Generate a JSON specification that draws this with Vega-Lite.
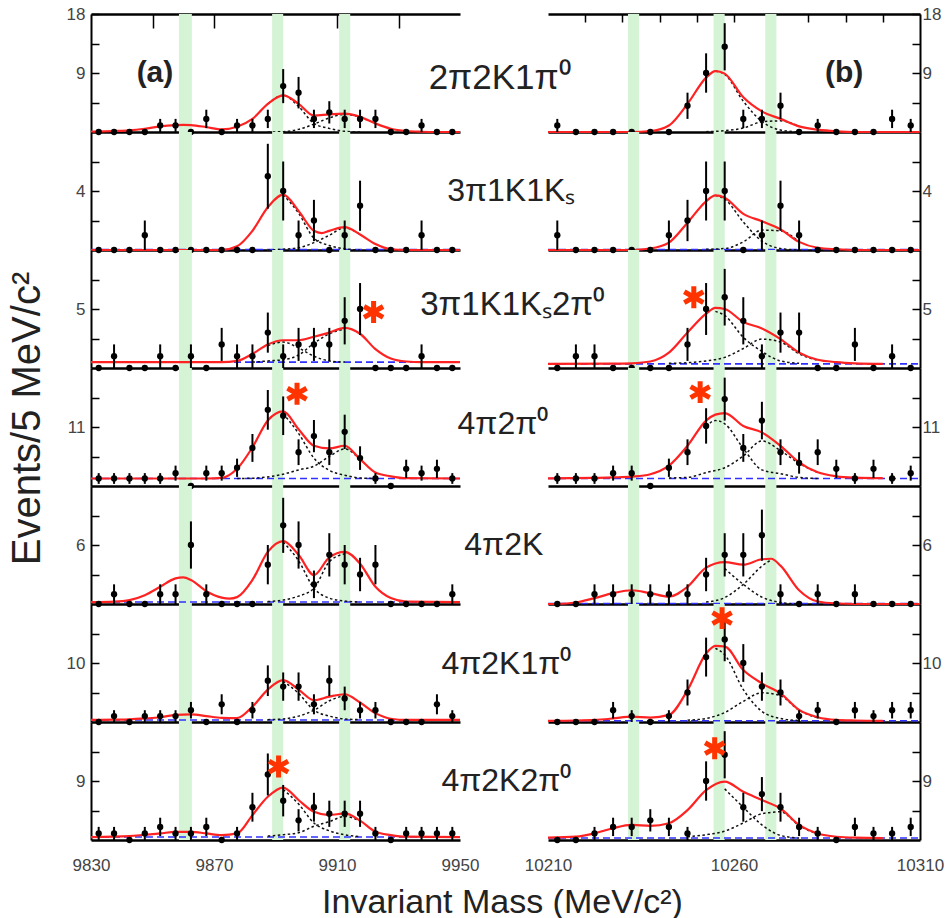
{
"$schema":"https://vega.github.io/schema/vega-lite/v6.json",
"background":"white",
"padding":{"left":6,"top":5,"right":0,"bottom":0},
"config":{"font":"Liberation Sans","view":{"stroke":null},
"axis":{"grid":false,"labelFont":"Liberation Sans","labelFontSize":17,"labelColor":"#444","domainColor":"black","tickColor":"black","tickWidth":1.5,"titleFont":"Liberation Sans","titleFontWeight":"normal","titleColor":"#222"},
"axisX":{"ticks":false,"labels":false,"domainWidth":2.5,"labelFlush":false,"format":"d"},
"axisY":{"tickSize":-8,"domainWidth":2},
"axisLeft":{"labelPadding":14},
"axisRight":{"labelPadding":10}},
"datasets":{
"B":[{"c":"a","m":9858.6,"m2":9862.8,"v":0,"v2":30},{"c":"a","m":9888.9,"m2":9892.5,"v":0,"v2":30},{"c":"a","m":9910.7,"m2":9914.3,"v":0,"v2":30},{"c":"b","m":10231.5,"m2":10234.5,"v":0,"v2":30},{"c":"b","m":10254.5,"m2":10257.5,"v":0,"v2":30},{"c":"b","m":10268.4,"m2":10271.4,"v":0,"v2":30}],
"T":[{"p":1,"k":"n","m":9986,"v":8.3,"t":"2π2K1π⁰"},{"p":1,"k":"a","m":9850.8,"v":9,"t":"(a)"},{"p":11,"k":"a","m":10289.6,"v":9,"t":"(b)"},{"p":2,"k":"n","m":9987.5,"v":4,"t":"3π1K1Kₛ"},{"p":3,"k":"n","m":9997.2,"v":5.3,"t":"3π1K1Kₛ2π⁰"},{"p":4,"k":"n","m":9978.7,"v":11.6,"t":"4π2π⁰"},{"p":5,"k":"n","m":9977.1,"v":6,"t":"4π2K"},{"p":6,"k":"n","m":9986.2,"v":9.8,"t":"4π2K1π⁰"},{"p":7,"k":"n","m":9986.2,"v":9,"t":"4π2K2π⁰"}],
"S":[{"p":3,"m":9921.9,"v":4.75},{"p":4,"m":9897,"v":17.2},{"p":7,"m":9891,"v":11.2},{"p":13,"m":10249.2,"v":6},{"p":14,"m":10250.9,"v":17.5},{"p":16,"m":10256.8,"v":17.6},{"p":17,"m":10254.8,"v":14}],
"P":[
{"p":1,"m":9832.5,"v":0,"e":0},{"p":1,"m":9837.5,"v":0,"e":0},{"p":1,"m":9842.5,"v":0,"e":0},{"p":1,"m":9847.5,"v":0,"e":0},{"p":1,"m":9852.5,"v":1,"e":1},{"p":1,"m":9857.5,"v":1,"e":1},{"p":1,"m":9862.5,"v":0,"e":0},{"p":1,"m":9867.5,"v":2,"e":1.4},{"p":1,"m":9872.5,"v":0,"e":0},{"p":1,"m":9877.5,"v":1,"e":1},{"p":1,"m":9882.5,"v":1,"e":1},{"p":1,"m":9887.5,"v":2,"e":1.4},{"p":1,"m":9892.5,"v":7,"e":2.6},{"p":1,"m":9897.5,"v":6,"e":2.4},{"p":1,"m":9902.5,"v":2,"e":1.4},{"p":1,"m":9907.5,"v":3,"e":1.7},{"p":1,"m":9912.5,"v":2,"e":1.4},{"p":1,"m":9917.5,"v":2,"e":1.4},{"p":1,"m":9922.5,"v":2,"e":1.4},{"p":1,"m":9927.5,"v":0,"e":0},{"p":1,"m":9932.5,"v":0,"e":0},{"p":1,"m":9937.5,"v":1,"e":1},{"p":1,"m":9942.5,"v":0,"e":0},{"p":1,"m":9947.5,"v":0,"e":0},
{"p":2,"m":9832.5,"v":0,"e":0},{"p":2,"m":9837.5,"v":0,"e":0},{"p":2,"m":9842.5,"v":0,"e":0},{"p":2,"m":9847.5,"v":1,"e":1},{"p":2,"m":9852.5,"v":0,"e":0},{"p":2,"m":9857.5,"v":0,"e":0},{"p":2,"m":9862.5,"v":0,"e":0},{"p":2,"m":9867.5,"v":0,"e":0},{"p":2,"m":9872.5,"v":0,"e":0},{"p":2,"m":9877.5,"v":0,"e":0},{"p":2,"m":9882.5,"v":0,"e":0},{"p":2,"m":9887.5,"v":5,"e":2.2},{"p":2,"m":9892.5,"v":4,"e":2},{"p":2,"m":9897.5,"v":1,"e":1},{"p":2,"m":9902.5,"v":2,"e":1.4},{"p":2,"m":9907.5,"v":0,"e":0},{"p":2,"m":9912.5,"v":1,"e":1},{"p":2,"m":9917.5,"v":3,"e":1.7},{"p":2,"m":9922.5,"v":0,"e":0},{"p":2,"m":9927.5,"v":0,"e":0},{"p":2,"m":9932.5,"v":0,"e":0},{"p":2,"m":9937.5,"v":1,"e":1},{"p":2,"m":9942.5,"v":0,"e":0},{"p":2,"m":9947.5,"v":0,"e":0},
{"p":3,"m":9832.5,"v":0,"e":0},{"p":3,"m":9837.5,"v":1,"e":1},{"p":3,"m":9842.5,"v":0,"e":0},{"p":3,"m":9847.5,"v":0,"e":0},{"p":3,"m":9852.5,"v":1,"e":1},{"p":3,"m":9857.5,"v":0,"e":0},{"p":3,"m":9862.5,"v":1,"e":1},{"p":3,"m":9867.5,"v":0,"e":0},{"p":3,"m":9872.5,"v":2,"e":1.4},{"p":3,"m":9877.5,"v":1,"e":1},{"p":3,"m":9882.5,"v":1,"e":1},{"p":3,"m":9887.5,"v":3,"e":1.7},{"p":3,"m":9892.5,"v":1,"e":1},{"p":3,"m":9897.5,"v":2,"e":1.4},{"p":3,"m":9902.5,"v":2,"e":1.4},{"p":3,"m":9907.5,"v":2,"e":1.4},{"p":3,"m":9912.5,"v":4,"e":2},{"p":3,"m":9917.5,"v":5,"e":2.2},{"p":3,"m":9922.5,"v":0,"e":0},{"p":3,"m":9927.5,"v":0,"e":0},{"p":3,"m":9932.5,"v":0,"e":0},{"p":3,"m":9937.5,"v":1,"e":1},{"p":3,"m":9942.5,"v":0,"e":0},{"p":3,"m":9947.5,"v":0,"e":0},
{"p":4,"m":9832.5,"v":1.4,"e":1},{"p":4,"m":9837.5,"v":1.4,"e":1},{"p":4,"m":9842.5,"v":1.4,"e":1},{"p":4,"m":9847.5,"v":1.4,"e":1},{"p":4,"m":9852.5,"v":1.4,"e":1},{"p":4,"m":9857.5,"v":2.4,"e":1.4},{"p":4,"m":9862.5,"v":0,"e":0},{"p":4,"m":9867.5,"v":2.4,"e":1.4},{"p":4,"m":9872.5,"v":2.4,"e":1.4},{"p":4,"m":9877.5,"v":3.4,"e":1.7},{"p":4,"m":9882.5,"v":7.1,"e":2.6},{"p":4,"m":9887.5,"v":14.2,"e":3.7},{"p":4,"m":9892.5,"v":13.1,"e":3.6},{"p":4,"m":9897.5,"v":6.3,"e":2.4},{"p":4,"m":9902.5,"v":9.3,"e":3},{"p":4,"m":9907.5,"v":6.3,"e":2.4},{"p":4,"m":9912.5,"v":10.1,"e":3.2},{"p":4,"m":9917.5,"v":5.2,"e":2.2},{"p":4,"m":9922.5,"v":1.4,"e":1},{"p":4,"m":9927.5,"v":0,"e":0},{"p":4,"m":9932.5,"v":3.2,"e":1.7},{"p":4,"m":9937.5,"v":2.4,"e":1.4},{"p":4,"m":9942.5,"v":3.2,"e":1.7},{"p":4,"m":9947.5,"v":1.4,"e":1},
{"p":5,"m":9832.5,"v":0,"e":0},{"p":5,"m":9837.5,"v":1,"e":1},{"p":5,"m":9842.5,"v":0,"e":0},{"p":5,"m":9847.5,"v":0,"e":0},{"p":5,"m":9852.5,"v":1,"e":1},{"p":5,"m":9857.5,"v":1,"e":1},{"p":5,"m":9862.5,"v":6,"e":2.4},{"p":5,"m":9867.5,"v":1,"e":1},{"p":5,"m":9872.5,"v":0,"e":0},{"p":5,"m":9877.5,"v":0,"e":0},{"p":5,"m":9882.5,"v":0,"e":0},{"p":5,"m":9887.5,"v":4,"e":2},{"p":5,"m":9892.5,"v":8,"e":2.8},{"p":5,"m":9897.5,"v":6,"e":2.4},{"p":5,"m":9902.5,"v":2,"e":1.4},{"p":5,"m":9907.5,"v":5,"e":2.2},{"p":5,"m":9912.5,"v":4,"e":2},{"p":5,"m":9917.5,"v":3,"e":1.7},{"p":5,"m":9922.5,"v":4,"e":2},{"p":5,"m":9927.5,"v":0,"e":0},{"p":5,"m":9932.5,"v":0,"e":0},{"p":5,"m":9937.5,"v":0,"e":0},{"p":5,"m":9942.5,"v":0,"e":0},{"p":5,"m":9947.5,"v":1,"e":1},
{"p":6,"m":9832.5,"v":0,"e":0},{"p":6,"m":9837.5,"v":1,"e":1},{"p":6,"m":9842.5,"v":0,"e":0},{"p":6,"m":9847.5,"v":1,"e":1},{"p":6,"m":9852.5,"v":1,"e":1},{"p":6,"m":9857.5,"v":1,"e":1},{"p":6,"m":9862.5,"v":2,"e":1.4},{"p":6,"m":9867.5,"v":0,"e":0},{"p":6,"m":9872.5,"v":3,"e":1.7},{"p":6,"m":9877.5,"v":0,"e":0},{"p":6,"m":9882.5,"v":2,"e":1.4},{"p":6,"m":9887.5,"v":7,"e":2.6},{"p":6,"m":9892.5,"v":6,"e":2.4},{"p":6,"m":9897.5,"v":6,"e":2.4},{"p":6,"m":9902.5,"v":3,"e":1.7},{"p":6,"m":9907.5,"v":7,"e":2.6},{"p":6,"m":9912.5,"v":4,"e":2},{"p":6,"m":9917.5,"v":2,"e":1.4},{"p":6,"m":9922.5,"v":2,"e":1.4},{"p":6,"m":9927.5,"v":0,"e":0},{"p":6,"m":9932.5,"v":0,"e":0},{"p":6,"m":9937.5,"v":0,"e":0},{"p":6,"m":9942.5,"v":3,"e":1.7},{"p":6,"m":9947.5,"v":1,"e":1},
{"p":7,"m":9832.5,"v":1,"e":1},{"p":7,"m":9837.5,"v":1,"e":1},{"p":7,"m":9842.5,"v":0,"e":0},{"p":7,"m":9847.5,"v":1,"e":1},{"p":7,"m":9852.5,"v":2,"e":1.4},{"p":7,"m":9857.5,"v":1,"e":1},{"p":7,"m":9862.5,"v":1,"e":1},{"p":7,"m":9867.5,"v":2,"e":1.4},{"p":7,"m":9872.5,"v":0,"e":0},{"p":7,"m":9877.5,"v":1,"e":1},{"p":7,"m":9882.5,"v":5,"e":2.2},{"p":7,"m":9887.5,"v":10,"e":3.2},{"p":7,"m":9892.5,"v":6,"e":2.4},{"p":7,"m":9897.5,"v":3,"e":1.7},{"p":7,"m":9902.5,"v":5,"e":2.2},{"p":7,"m":9907.5,"v":4,"e":2},{"p":7,"m":9912.5,"v":4,"e":2},{"p":7,"m":9917.5,"v":4,"e":2},{"p":7,"m":9922.5,"v":1,"e":1},{"p":7,"m":9927.5,"v":0,"e":0},{"p":7,"m":9932.5,"v":1,"e":1},{"p":7,"m":9937.5,"v":1,"e":1},{"p":7,"m":9942.5,"v":1,"e":1},{"p":7,"m":9947.5,"v":1,"e":1},
{"p":11,"m":10212.5,"v":1,"e":1},{"p":11,"m":10217.5,"v":0,"e":0},{"p":11,"m":10222.5,"v":0,"e":0},{"p":11,"m":10227.5,"v":0,"e":0},{"p":11,"m":10232.5,"v":0,"e":0},{"p":11,"m":10237.5,"v":0,"e":0},{"p":11,"m":10242.5,"v":0,"e":0},{"p":11,"m":10247.5,"v":4,"e":2},{"p":11,"m":10252.5,"v":9,"e":3},{"p":11,"m":10257.5,"v":13,"e":3.6},{"p":11,"m":10262.5,"v":2,"e":1.4},{"p":11,"m":10267.5,"v":2,"e":1.4},{"p":11,"m":10272.5,"v":4,"e":2},{"p":11,"m":10277.5,"v":0,"e":0},{"p":11,"m":10282.5,"v":1,"e":1},{"p":11,"m":10287.5,"v":0,"e":0},{"p":11,"m":10292.5,"v":0,"e":0},{"p":11,"m":10297.5,"v":0,"e":0},{"p":11,"m":10302.5,"v":2,"e":1.4},{"p":11,"m":10307.5,"v":1,"e":1},
{"p":12,"m":10212.5,"v":1,"e":1},{"p":12,"m":10217.5,"v":0,"e":0},{"p":12,"m":10222.5,"v":0,"e":0},{"p":12,"m":10227.5,"v":0,"e":0},{"p":12,"m":10232.5,"v":0,"e":0},{"p":12,"m":10237.5,"v":0,"e":0},{"p":12,"m":10242.5,"v":1,"e":1},{"p":12,"m":10247.5,"v":2,"e":1.4},{"p":12,"m":10252.5,"v":4,"e":2},{"p":12,"m":10257.5,"v":4,"e":2},{"p":12,"m":10262.5,"v":0,"e":0},{"p":12,"m":10267.5,"v":1,"e":1},{"p":12,"m":10272.5,"v":3,"e":1.7},{"p":12,"m":10277.5,"v":1,"e":1},{"p":12,"m":10282.5,"v":0,"e":0},{"p":12,"m":10287.5,"v":0,"e":0},{"p":12,"m":10292.5,"v":0,"e":0},{"p":12,"m":10297.5,"v":0,"e":0},{"p":12,"m":10302.5,"v":0,"e":0},{"p":12,"m":10307.5,"v":0,"e":0},
{"p":13,"m":10212.5,"v":0,"e":0},{"p":13,"m":10217.5,"v":1,"e":1},{"p":13,"m":10222.5,"v":1,"e":1},{"p":13,"m":10227.5,"v":0,"e":0},{"p":13,"m":10232.5,"v":0,"e":0},{"p":13,"m":10237.5,"v":0,"e":0},{"p":13,"m":10242.5,"v":0,"e":0},{"p":13,"m":10247.5,"v":2,"e":1.4},{"p":13,"m":10252.5,"v":5,"e":2.2},{"p":13,"m":10257.5,"v":6,"e":2.4},{"p":13,"m":10262.5,"v":4,"e":2},{"p":13,"m":10267.5,"v":1,"e":1},{"p":13,"m":10272.5,"v":3,"e":1.7},{"p":13,"m":10277.5,"v":3,"e":1.7},{"p":13,"m":10282.5,"v":0,"e":0},{"p":13,"m":10287.5,"v":0,"e":0},{"p":13,"m":10292.5,"v":2,"e":1.4},{"p":13,"m":10297.5,"v":0,"e":0},{"p":13,"m":10302.5,"v":1,"e":1},{"p":13,"m":10307.5,"v":0,"e":0},
{"p":14,"m":10212.5,"v":1.4,"e":1},{"p":14,"m":10217.5,"v":1.4,"e":1},{"p":14,"m":10222.5,"v":1.4,"e":1},{"p":14,"m":10227.5,"v":2.4,"e":1.4},{"p":14,"m":10232.5,"v":2.4,"e":1.4},{"p":14,"m":10237.5,"v":0,"e":0},{"p":14,"m":10242.5,"v":3.4,"e":1.7},{"p":14,"m":10247.5,"v":6.3,"e":2.4},{"p":14,"m":10252.5,"v":11.2,"e":3.3},{"p":14,"m":10257.5,"v":16.2,"e":4},{"p":14,"m":10262.5,"v":7.1,"e":2.6},{"p":14,"m":10267.5,"v":12.2,"e":3.5},{"p":14,"m":10272.5,"v":6.3,"e":2.4},{"p":14,"m":10277.5,"v":4.3,"e":2},{"p":14,"m":10282.5,"v":6.3,"e":2.4},{"p":14,"m":10287.5,"v":3.2,"e":1.7},{"p":14,"m":10292.5,"v":1.4,"e":1},{"p":14,"m":10297.5,"v":3.2,"e":1.7},{"p":14,"m":10302.5,"v":1.4,"e":1},{"p":14,"m":10307.5,"v":2.4,"e":1.4},
{"p":15,"m":10212.5,"v":0,"e":0},{"p":15,"m":10217.5,"v":0,"e":0},{"p":15,"m":10222.5,"v":1,"e":1},{"p":15,"m":10227.5,"v":1,"e":1},{"p":15,"m":10232.5,"v":1,"e":1},{"p":15,"m":10237.5,"v":1,"e":1},{"p":15,"m":10242.5,"v":1,"e":1},{"p":15,"m":10247.5,"v":1,"e":1},{"p":15,"m":10252.5,"v":3,"e":1.7},{"p":15,"m":10257.5,"v":5,"e":2.2},{"p":15,"m":10262.5,"v":5,"e":2.2},{"p":15,"m":10267.5,"v":7,"e":2.6},{"p":15,"m":10272.5,"v":1,"e":1},{"p":15,"m":10277.5,"v":0,"e":0},{"p":15,"m":10282.5,"v":1,"e":1},{"p":15,"m":10287.5,"v":0,"e":0},{"p":15,"m":10292.5,"v":1,"e":1},{"p":15,"m":10297.5,"v":0,"e":0},{"p":15,"m":10302.5,"v":0,"e":0},{"p":15,"m":10307.5,"v":0,"e":0},
{"p":16,"m":10212.5,"v":0,"e":0},{"p":16,"m":10217.5,"v":0,"e":0},{"p":16,"m":10222.5,"v":0,"e":0},{"p":16,"m":10227.5,"v":2,"e":1.4},{"p":16,"m":10232.5,"v":1,"e":1},{"p":16,"m":10237.5,"v":0,"e":0},{"p":16,"m":10242.5,"v":1,"e":1},{"p":16,"m":10247.5,"v":5,"e":2.2},{"p":16,"m":10252.5,"v":11,"e":3.3},{"p":16,"m":10257.5,"v":14,"e":3.7},{"p":16,"m":10262.5,"v":10,"e":3.2},{"p":16,"m":10267.5,"v":6,"e":2.4},{"p":16,"m":10272.5,"v":5,"e":2.2},{"p":16,"m":10277.5,"v":1,"e":1},{"p":16,"m":10282.5,"v":2,"e":1.4},{"p":16,"m":10287.5,"v":0,"e":0},{"p":16,"m":10292.5,"v":2,"e":1.4},{"p":16,"m":10297.5,"v":1,"e":1},{"p":16,"m":10302.5,"v":2,"e":1.4},{"p":16,"m":10307.5,"v":2,"e":1.4},
{"p":17,"m":10212.5,"v":0,"e":0},{"p":17,"m":10217.5,"v":0,"e":0},{"p":17,"m":10222.5,"v":1,"e":1},{"p":17,"m":10227.5,"v":2,"e":1.4},{"p":17,"m":10232.5,"v":2,"e":1.4},{"p":17,"m":10237.5,"v":3,"e":1.7},{"p":17,"m":10242.5,"v":2,"e":1.4},{"p":17,"m":10247.5,"v":1,"e":1},{"p":17,"m":10252.5,"v":9,"e":3},{"p":17,"m":10257.5,"v":13,"e":3.6},{"p":17,"m":10262.5,"v":5,"e":2.2},{"p":17,"m":10267.5,"v":7,"e":2.6},{"p":17,"m":10272.5,"v":5,"e":2.2},{"p":17,"m":10277.5,"v":2,"e":1.4},{"p":17,"m":10282.5,"v":1,"e":1},{"p":17,"m":10287.5,"v":0,"e":0},{"p":17,"m":10292.5,"v":2,"e":1.4},{"p":17,"m":10297.5,"v":1,"e":1},{"p":17,"m":10302.5,"v":1,"e":1},{"p":17,"m":10307.5,"v":2,"e":1.4}],
"F":[
{"p":1,"s":"t","m":9830,"v":0.05},{"p":1,"s":"t","m":9837.5,"v":0.15},{"p":1,"s":"t","m":9842.5,"v":0.25},{"p":1,"s":"t","m":9847.5,"v":0.5},{"p":1,"s":"t","m":9852.5,"v":0.85},{"p":1,"s":"t","m":9857.5,"v":1.05},{"p":1,"s":"t","m":9860,"v":1.1},{"p":1,"s":"t","m":9862.5,"v":1.05},{"p":1,"s":"t","m":9867.5,"v":0.75},{"p":1,"s":"t","m":9872.5,"v":0.4},{"p":1,"s":"t","m":9877.5,"v":0.8},{"p":1,"s":"t","m":9882.5,"v":2},{"p":1,"s":"t","m":9887.5,"v":4.3},{"p":1,"s":"t","m":9892.5,"v":5.6},{"p":1,"s":"t","m":9897.5,"v":4.3},{"p":1,"s":"t","m":9902.5,"v":2.5},{"p":1,"s":"t","m":9907.5,"v":2.7},{"p":1,"s":"t","m":9912.5,"v":2.8},{"p":1,"s":"t","m":9917.5,"v":2.3},{"p":1,"s":"t","m":9922.5,"v":1.3},{"p":1,"s":"t","m":9927.5,"v":0.5},{"p":1,"s":"t","m":9932.5,"v":0.15},{"p":1,"s":"t","m":9937.5,"v":0.04},{"p":1,"s":"t","m":9942.5,"v":0},{"p":1,"s":"t","m":9950,"v":0},
{"p":1,"s":"u","m":9887.5,"v":4.3},{"p":1,"s":"u","m":9892.5,"v":5.6},{"p":1,"s":"u","m":9897.5,"v":3.9},{"p":1,"s":"u","m":9902.5,"v":1.3},{"p":1,"s":"u","m":9907.5,"v":0.55},{"p":1,"s":"u","m":9912.5,"v":0.1},{"p":1,"s":"u","m":9917.5,"v":0},
{"p":1,"s":"w","m":9887.5,"v":0},{"p":1,"s":"w","m":9892.5,"v":0.05},{"p":1,"s":"w","m":9897.5,"v":0.4},{"p":1,"s":"w","m":9902.5,"v":1.2},{"p":1,"s":"w","m":9907.5,"v":2.15},{"p":1,"s":"w","m":9912.5,"v":2.7},{"p":1,"s":"w","m":9917.5,"v":2.3},
{"p":2,"s":"t","m":9830,"v":0},{"p":2,"s":"t","m":9872.5,"v":0},{"p":2,"s":"t","m":9877.5,"v":0.25},{"p":2,"s":"t","m":9882.5,"v":1.3},{"p":2,"s":"t","m":9887.5,"v":2.9},{"p":2,"s":"t","m":9892.5,"v":3.75},{"p":2,"s":"t","m":9897.5,"v":2.65},{"p":2,"s":"t","m":9902.5,"v":1.3},{"p":2,"s":"t","m":9905,"v":1.15},{"p":2,"s":"t","m":9907.5,"v":1.3},{"p":2,"s":"t","m":9912.5,"v":1.55},{"p":2,"s":"t","m":9917.5,"v":1.05},{"p":2,"s":"t","m":9922.5,"v":0.4},{"p":2,"s":"t","m":9927.5,"v":0.05},{"p":2,"s":"t","m":9932.5,"v":0},{"p":2,"s":"t","m":9950,"v":0},
{"p":2,"s":"u","m":9892.5,"v":3.75},{"p":2,"s":"u","m":9897.5,"v":2.5},{"p":2,"s":"u","m":9902.5,"v":0.8},{"p":2,"s":"u","m":9907.5,"v":0.3},{"p":2,"s":"u","m":9912.5,"v":0.08},{"p":2,"s":"u","m":9917.5,"v":0},
{"p":2,"s":"w","m":9887.5,"v":0},{"p":2,"s":"w","m":9892.5,"v":0.05},{"p":2,"s":"w","m":9897.5,"v":0.15},{"p":2,"s":"w","m":9902.5,"v":0.5},{"p":2,"s":"w","m":9907.5,"v":1},{"p":2,"s":"w","m":9912.5,"v":1.5},{"p":2,"s":"w","m":9917.5,"v":1.05},
{"p":2,"s":"b","m":9830,"v":0.03},{"p":2,"s":"b","m":9950,"v":0.03},
{"p":3,"s":"t","m":9830,"v":0.5},{"p":3,"s":"t","m":9872.5,"v":0.5},{"p":3,"s":"t","m":9877.5,"v":0.6},{"p":3,"s":"t","m":9882.5,"v":1.2},{"p":3,"s":"t","m":9887.5,"v":2},{"p":3,"s":"t","m":9892.5,"v":2.35},{"p":3,"s":"t","m":9897.5,"v":2.35},{"p":3,"s":"t","m":9902.5,"v":2.65},{"p":3,"s":"t","m":9907.5,"v":3},{"p":3,"s":"t","m":9912.5,"v":3.4},{"p":3,"s":"t","m":9917.5,"v":2.9},{"p":3,"s":"t","m":9922.5,"v":1.6},{"p":3,"s":"t","m":9927.5,"v":0.8},{"p":3,"s":"t","m":9932.5,"v":0.55},{"p":3,"s":"t","m":9937.5,"v":0.5},{"p":3,"s":"t","m":9950,"v":0.5},
{"p":3,"s":"u","m":9887.5,"v":1.9},{"p":3,"s":"u","m":9892.5,"v":2.2},{"p":3,"s":"u","m":9897.5,"v":1.7},{"p":3,"s":"u","m":9902.5,"v":1},{"p":3,"s":"u","m":9907.5,"v":0.6},{"p":3,"s":"u","m":9912.5,"v":0.5},
{"p":3,"s":"w","m":9882.5,"v":0.5},{"p":3,"s":"w","m":9887.5,"v":0.6},{"p":3,"s":"w","m":9892.5,"v":0.7},{"p":3,"s":"w","m":9897.5,"v":1.1},{"p":3,"s":"w","m":9902.5,"v":2.1},{"p":3,"s":"w","m":9907.5,"v":2.9},{"p":3,"s":"w","m":9912.5,"v":3.3},
{"p":3,"s":"b","m":9830,"v":0.5},{"p":3,"s":"b","m":9950,"v":0.5},
{"p":4,"s":"t","m":9830,"v":1.4},{"p":4,"s":"t","m":9867.5,"v":1.4},{"p":4,"s":"t","m":9872.5,"v":1.5},{"p":4,"s":"t","m":9877.5,"v":3.2},{"p":4,"s":"t","m":9882.5,"v":7.2},{"p":4,"s":"t","m":9887.5,"v":12.2},{"p":4,"s":"t","m":9892.5,"v":13.9},{"p":4,"s":"t","m":9897.5,"v":10.6},{"p":4,"s":"t","m":9902.5,"v":7.5},{"p":4,"s":"t","m":9907.5,"v":7},{"p":4,"s":"t","m":9912.5,"v":7.5},{"p":4,"s":"t","m":9917.5,"v":5},{"p":4,"s":"t","m":9922.5,"v":2.5},{"p":4,"s":"t","m":9927.5,"v":1.8},{"p":4,"s":"t","m":9932.5,"v":1.45},{"p":4,"s":"t","m":9950,"v":1.4},
{"p":4,"s":"u","m":9892.5,"v":13.5},{"p":4,"s":"u","m":9897.5,"v":9.8},{"p":4,"s":"u","m":9902.5,"v":5.2},{"p":4,"s":"u","m":9907.5,"v":2.9},{"p":4,"s":"u","m":9912.5,"v":2},{"p":4,"s":"u","m":9917.5,"v":1.5},{"p":4,"s":"u","m":9922.5,"v":1.4},
{"p":4,"s":"w","m":9877.5,"v":1.4},{"p":4,"s":"w","m":9882.5,"v":1.45},{"p":4,"s":"w","m":9887.5,"v":1.7},{"p":4,"s":"w","m":9892.5,"v":2.2},{"p":4,"s":"w","m":9897.5,"v":3},{"p":4,"s":"w","m":9902.5,"v":3.7},{"p":4,"s":"w","m":9907.5,"v":5.5},{"p":4,"s":"w","m":9912.5,"v":6.9},{"p":4,"s":"w","m":9917.5,"v":4.9},
{"p":4,"s":"b","m":9830,"v":1.4},{"p":4,"s":"b","m":9950,"v":1.4},
{"p":5,"s":"t","m":9830,"v":0.2},{"p":5,"s":"t","m":9837.5,"v":0.25},{"p":5,"s":"t","m":9842.5,"v":0.4},{"p":5,"s":"t","m":9847.5,"v":0.9},{"p":5,"s":"t","m":9852.5,"v":1.75},{"p":5,"s":"t","m":9857.5,"v":2.6},{"p":5,"s":"t","m":9860,"v":2.7},{"p":5,"s":"t","m":9862.5,"v":2.45},{"p":5,"s":"t","m":9867.5,"v":1.3},{"p":5,"s":"t","m":9872.5,"v":0.65},{"p":5,"s":"t","m":9875,"v":0.55},{"p":5,"s":"t","m":9877.5,"v":0.7},{"p":5,"s":"t","m":9882.5,"v":2.45},{"p":5,"s":"t","m":9887.5,"v":5.3},{"p":5,"s":"t","m":9892.5,"v":6.4},{"p":5,"s":"t","m":9897.5,"v":5},{"p":5,"s":"t","m":9902.5,"v":2.95},{"p":5,"s":"t","m":9907.5,"v":4.75},{"p":5,"s":"t","m":9912.5,"v":5.3},{"p":5,"s":"t","m":9917.5,"v":4.1},{"p":5,"s":"t","m":9922.5,"v":1.75},{"p":5,"s":"t","m":9927.5,"v":0.6},{"p":5,"s":"t","m":9932.5,"v":0.25},{"p":5,"s":"t","m":9950,"v":0.2},
{"p":5,"s":"u","m":9892.5,"v":6.3},{"p":5,"s":"u","m":9897.5,"v":4.4},{"p":5,"s":"u","m":9902.5,"v":1.6},{"p":5,"s":"u","m":9907.5,"v":0.6},{"p":5,"s":"u","m":9912.5,"v":0.3},{"p":5,"s":"u","m":9917.5,"v":0.2},
{"p":5,"s":"w","m":9887.5,"v":0.25},{"p":5,"s":"w","m":9892.5,"v":0.4},{"p":5,"s":"w","m":9897.5,"v":0.8},{"p":5,"s":"w","m":9902.5,"v":1.6},{"p":5,"s":"w","m":9907.5,"v":4.3},{"p":5,"s":"w","m":9912.5,"v":5.1},
{"p":5,"s":"b","m":9830,"v":0.2},{"p":5,"s":"b","m":9950,"v":0.2},
{"p":6,"s":"t","m":9830,"v":0.35},{"p":6,"s":"t","m":9837.5,"v":0.4},{"p":6,"s":"t","m":9842.5,"v":0.45},{"p":6,"s":"t","m":9847.5,"v":0.6},{"p":6,"s":"t","m":9852.5,"v":0.8},{"p":6,"s":"t","m":9857.5,"v":1.2},{"p":6,"s":"t","m":9862.5,"v":1.3},{"p":6,"s":"t","m":9867.5,"v":1},{"p":6,"s":"t","m":9872.5,"v":0.7},{"p":6,"s":"t","m":9877.5,"v":0.65},{"p":6,"s":"t","m":9882.5,"v":2.6},{"p":6,"s":"t","m":9887.5,"v":5.5},{"p":6,"s":"t","m":9892.5,"v":7.1},{"p":6,"s":"t","m":9897.5,"v":5.5},{"p":6,"s":"t","m":9902.5,"v":3.7},{"p":6,"s":"t","m":9907.5,"v":4.3},{"p":6,"s":"t","m":9912.5,"v":4.7},{"p":6,"s":"t","m":9917.5,"v":3.3},{"p":6,"s":"t","m":9922.5,"v":1.5},{"p":6,"s":"t","m":9927.5,"v":0.55},{"p":6,"s":"t","m":9932.5,"v":0.35},{"p":6,"s":"t","m":9950,"v":0.35},
{"p":6,"s":"u","m":9892.5,"v":6.9},{"p":6,"s":"u","m":9897.5,"v":4.85},{"p":6,"s":"u","m":9902.5,"v":2},{"p":6,"s":"u","m":9907.5,"v":1},{"p":6,"s":"u","m":9912.5,"v":0.5},{"p":6,"s":"u","m":9917.5,"v":0.4},
{"p":6,"s":"w","m":9887.5,"v":0.4},{"p":6,"s":"w","m":9892.5,"v":0.5},{"p":6,"s":"w","m":9897.5,"v":1},{"p":6,"s":"w","m":9902.5,"v":2},{"p":6,"s":"w","m":9907.5,"v":3.6},{"p":6,"s":"w","m":9912.5,"v":4.5},
{"p":6,"s":"b","m":9830,"v":0.35},{"p":6,"s":"b","m":9950,"v":0.35},
{"p":7,"s":"t","m":9830,"v":0.45},{"p":7,"s":"t","m":9842.5,"v":0.6},{"p":7,"s":"t","m":9847.5,"v":0.8},{"p":7,"s":"t","m":9852.5,"v":1},{"p":7,"s":"t","m":9857.5,"v":1.25},{"p":7,"s":"t","m":9862.5,"v":1.25},{"p":7,"s":"t","m":9867.5,"v":1},{"p":7,"s":"t","m":9872.5,"v":0.75},{"p":7,"s":"t","m":9877.5,"v":1},{"p":7,"s":"t","m":9882.5,"v":3.8},{"p":7,"s":"t","m":9887.5,"v":6.6},{"p":7,"s":"t","m":9892.5,"v":8},{"p":7,"s":"t","m":9897.5,"v":6.1},{"p":7,"s":"t","m":9902.5,"v":4.3},{"p":7,"s":"t","m":9907.5,"v":3.8},{"p":7,"s":"t","m":9912.5,"v":4.05},{"p":7,"s":"t","m":9917.5,"v":2.95},{"p":7,"s":"t","m":9922.5,"v":1.25},{"p":7,"s":"t","m":9927.5,"v":0.75},{"p":7,"s":"t","m":9932.5,"v":0.5},{"p":7,"s":"t","m":9950,"v":0.45},
{"p":7,"s":"u","m":9892.5,"v":7.7},{"p":7,"s":"u","m":9897.5,"v":5.5},{"p":7,"s":"u","m":9902.5,"v":2.6},{"p":7,"s":"u","m":9907.5,"v":1.4},{"p":7,"s":"u","m":9912.5,"v":0.8},{"p":7,"s":"u","m":9917.5,"v":0.5},
{"p":7,"s":"w","m":9887.5,"v":0.6},{"p":7,"s":"w","m":9892.5,"v":0.8},{"p":7,"s":"w","m":9897.5,"v":1.1},{"p":7,"s":"w","m":9902.5,"v":2.1},{"p":7,"s":"w","m":9907.5,"v":2.8},{"p":7,"s":"w","m":9912.5,"v":3.6},{"p":7,"s":"w","m":9917.5,"v":2.9},
{"p":7,"s":"b","m":9830,"v":0.45},{"p":7,"s":"b","m":9950,"v":0.45},
{"p":11,"s":"t","m":10210,"v":0},{"p":11,"s":"t","m":10232.5,"v":0},{"p":11,"s":"t","m":10237.5,"v":0.15},{"p":11,"s":"t","m":10242.5,"v":1},{"p":11,"s":"t","m":10247.5,"v":4.3},{"p":11,"s":"t","m":10252.5,"v":8.3},{"p":11,"s":"t","m":10255,"v":9.3},{"p":11,"s":"t","m":10257.5,"v":8.9},{"p":11,"s":"t","m":10262.5,"v":5.3},{"p":11,"s":"t","m":10267.5,"v":3.15},{"p":11,"s":"t","m":10272.5,"v":2},{"p":11,"s":"t","m":10277.5,"v":0.85},{"p":11,"s":"t","m":10282.5,"v":0.35},{"p":11,"s":"t","m":10287.5,"v":0.1},{"p":11,"s":"t","m":10292.5,"v":0},{"p":11,"s":"t","m":10310,"v":0},
{"p":11,"s":"u","m":10255,"v":9.3},{"p":11,"s":"u","m":10257.5,"v":8.8},{"p":11,"s":"u","m":10262.5,"v":4.7},{"p":11,"s":"u","m":10267.5,"v":1.6},{"p":11,"s":"u","m":10272.5,"v":0.3},{"p":11,"s":"u","m":10277.5,"v":0},
{"p":11,"s":"w","m":10252.5,"v":0.05},{"p":11,"s":"w","m":10257.5,"v":0.2},{"p":11,"s":"w","m":10262.5,"v":0.6},{"p":11,"s":"w","m":10267.5,"v":1.55},{"p":11,"s":"w","m":10272.5,"v":1.7},{"p":11,"s":"w","m":10277.5,"v":0.85},
{"p":12,"s":"t","m":10210,"v":0},{"p":12,"s":"t","m":10232.5,"v":0},{"p":12,"s":"t","m":10237.5,"v":0.1},{"p":12,"s":"t","m":10242.5,"v":0.5},{"p":12,"s":"t","m":10247.5,"v":1.85},{"p":12,"s":"t","m":10252.5,"v":3.3},{"p":12,"s":"t","m":10255,"v":3.7},{"p":12,"s":"t","m":10257.5,"v":3.55},{"p":12,"s":"t","m":10262.5,"v":2.45},{"p":12,"s":"t","m":10267.5,"v":1.95},{"p":12,"s":"t","m":10272.5,"v":1.4},{"p":12,"s":"t","m":10277.5,"v":0.55},{"p":12,"s":"t","m":10282.5,"v":0.15},{"p":12,"s":"t","m":10287.5,"v":0.05},{"p":12,"s":"t","m":10292.5,"v":0},{"p":12,"s":"t","m":10310,"v":0},
{"p":12,"s":"u","m":10255,"v":3.7},{"p":12,"s":"u","m":10257.5,"v":3.45},{"p":12,"s":"u","m":10262.5,"v":1.9},{"p":12,"s":"u","m":10267.5,"v":0.6},{"p":12,"s":"u","m":10272.5,"v":0.1},{"p":12,"s":"u","m":10277.5,"v":0},
{"p":12,"s":"w","m":10252.5,"v":0.05},{"p":12,"s":"w","m":10257.5,"v":0.1},{"p":12,"s":"w","m":10262.5,"v":0.55},{"p":12,"s":"w","m":10267.5,"v":1.35},{"p":12,"s":"w","m":10272.5,"v":1.3},{"p":12,"s":"w","m":10277.5,"v":0.55},
{"p":12,"s":"b","m":10210,"v":0.03},{"p":12,"s":"b","m":10310,"v":0.03},
{"p":13,"s":"t","m":10210,"v":0.35},{"p":13,"s":"t","m":10227.5,"v":0.37},{"p":13,"s":"t","m":10232.5,"v":0.4},{"p":13,"s":"t","m":10237.5,"v":0.55},{"p":13,"s":"t","m":10242.5,"v":1.3},{"p":13,"s":"t","m":10247.5,"v":3},{"p":13,"s":"t","m":10252.5,"v":4.6},{"p":13,"s":"t","m":10255,"v":5.1},{"p":13,"s":"t","m":10257.5,"v":5},{"p":13,"s":"t","m":10262.5,"v":3.9},{"p":13,"s":"t","m":10267.5,"v":3.35},{"p":13,"s":"t","m":10272.5,"v":2.45},{"p":13,"s":"t","m":10277.5,"v":1.3},{"p":13,"s":"t","m":10282.5,"v":0.7},{"p":13,"s":"t","m":10287.5,"v":0.5},{"p":13,"s":"t","m":10292.5,"v":0.4},{"p":13,"s":"t","m":10300,"v":0.35},
{"p":13,"s":"u","m":10255,"v":4.8},{"p":13,"s":"u","m":10257.5,"v":4.45},{"p":13,"s":"u","m":10262.5,"v":2.6},{"p":13,"s":"u","m":10267.5,"v":1.4},{"p":13,"s":"u","m":10272.5,"v":0.6},{"p":13,"s":"u","m":10277.5,"v":0.4},
{"p":13,"s":"w","m":10242.5,"v":0.4},{"p":13,"s":"w","m":10247.5,"v":0.45},{"p":13,"s":"w","m":10252.5,"v":0.6},{"p":13,"s":"w","m":10257.5,"v":0.9},{"p":13,"s":"w","m":10262.5,"v":1.65},{"p":13,"s":"w","m":10267.5,"v":2.45},{"p":13,"s":"w","m":10272.5,"v":2.2},{"p":13,"s":"w","m":10277.5,"v":1.2},{"p":13,"s":"w","m":10282.5,"v":0.65},
{"p":13,"s":"b","m":10210,"v":0.35},{"p":13,"s":"b","m":10310,"v":0.35},
{"p":14,"s":"t","m":10210,"v":1.43},{"p":14,"s":"t","m":10222.5,"v":1.5},{"p":14,"s":"t","m":10227.5,"v":1.6},{"p":14,"s":"t","m":10232.5,"v":1.75},{"p":14,"s":"t","m":10237.5,"v":2.2},{"p":14,"s":"t","m":10242.5,"v":3.8},{"p":14,"s":"t","m":10247.5,"v":7.5},{"p":14,"s":"t","m":10252.5,"v":12.2},{"p":14,"s":"t","m":10255,"v":13.3},{"p":14,"s":"t","m":10257.5,"v":13.6},{"p":14,"s":"t","m":10262.5,"v":11.2},{"p":14,"s":"t","m":10267.5,"v":10},{"p":14,"s":"t","m":10272.5,"v":7.5},{"p":14,"s":"t","m":10277.5,"v":4.4},{"p":14,"s":"t","m":10282.5,"v":2.55},{"p":14,"s":"t","m":10287.5,"v":1.8},{"p":14,"s":"t","m":10292.5,"v":1.55},{"p":14,"s":"t","m":10300,"v":1.45},
{"p":14,"s":"u","m":10252.5,"v":11.1},{"p":14,"s":"u","m":10255,"v":12.2},{"p":14,"s":"u","m":10257.5,"v":11.6},{"p":14,"s":"u","m":10262.5,"v":7},{"p":14,"s":"u","m":10267.5,"v":3},{"p":14,"s":"u","m":10272.5,"v":2.3},{"p":14,"s":"u","m":10277.5,"v":1.6},{"p":14,"s":"u","m":10282.5,"v":1.4},
{"p":14,"s":"w","m":10242.5,"v":1.5},{"p":14,"s":"w","m":10247.5,"v":1.6},{"p":14,"s":"w","m":10252.5,"v":2.5},{"p":14,"s":"w","m":10257.5,"v":3.4},{"p":14,"s":"w","m":10262.5,"v":5.6},{"p":14,"s":"w","m":10267.5,"v":8.4},{"p":14,"s":"w","m":10272.5,"v":6.6},{"p":14,"s":"w","m":10277.5,"v":4.2},{"p":14,"s":"w","m":10282.5,"v":2.5},
{"p":14,"s":"b","m":10210,"v":1.4},{"p":14,"s":"b","m":10310,"v":1.4},
{"p":15,"s":"t","m":10210,"v":0},{"p":15,"s":"t","m":10212.5,"v":0},{"p":15,"s":"t","m":10217.5,"v":0.15},{"p":15,"s":"t","m":10222.5,"v":0.6},{"p":15,"s":"t","m":10227.5,"v":1.1},{"p":15,"s":"t","m":10232.5,"v":1.4},{"p":15,"s":"t","m":10237.5,"v":1.1},{"p":15,"s":"t","m":10242.5,"v":0.75},{"p":15,"s":"t","m":10247.5,"v":1.75},{"p":15,"s":"t","m":10252.5,"v":3.7},{"p":15,"s":"t","m":10257.5,"v":4.25},{"p":15,"s":"t","m":10262.5,"v":4},{"p":15,"s":"t","m":10267.5,"v":4.55},{"p":15,"s":"t","m":10270,"v":4.6},{"p":15,"s":"t","m":10272.5,"v":3.9},{"p":15,"s":"t","m":10277.5,"v":1.4},{"p":15,"s":"t","m":10282.5,"v":0.25},{"p":15,"s":"t","m":10287.5,"v":0.05},{"p":15,"s":"t","m":10292.5,"v":0},{"p":15,"s":"t","m":10310,"v":0},
{"p":15,"s":"u","m":10257.5,"v":3.6},{"p":15,"s":"u","m":10262.5,"v":2},{"p":15,"s":"u","m":10267.5,"v":0.7},{"p":15,"s":"u","m":10272.5,"v":0.15},{"p":15,"s":"u","m":10277.5,"v":0},
{"p":15,"s":"w","m":10252.5,"v":0.2},{"p":15,"s":"w","m":10257.5,"v":0.65},{"p":15,"s":"w","m":10262.5,"v":2},{"p":15,"s":"w","m":10267.5,"v":3.85},{"p":15,"s":"w","m":10270,"v":4.5},
{"p":15,"s":"b","m":10210,"v":0.05},{"p":15,"s":"b","m":10310,"v":0.05},
{"p":16,"s":"t","m":10210,"v":0.2},{"p":16,"s":"t","m":10217.5,"v":0.25},{"p":16,"s":"t","m":10222.5,"v":0.35},{"p":16,"s":"t","m":10227.5,"v":0.6},{"p":16,"s":"t","m":10232.5,"v":0.9},{"p":16,"s":"t","m":10237.5,"v":0.75},{"p":16,"s":"t","m":10242.5,"v":1.2},{"p":16,"s":"t","m":10247.5,"v":5.4},{"p":16,"s":"t","m":10252.5,"v":11.6},{"p":16,"s":"t","m":10255,"v":12.9},{"p":16,"s":"t","m":10257.5,"v":12.8},{"p":16,"s":"t","m":10262.5,"v":8.8},{"p":16,"s":"t","m":10267.5,"v":6.55},{"p":16,"s":"t","m":10272.5,"v":4.85},{"p":16,"s":"t","m":10277.5,"v":2.05},{"p":16,"s":"t","m":10282.5,"v":0.8},{"p":16,"s":"t","m":10287.5,"v":0.35},{"p":16,"s":"t","m":10292.5,"v":0.25},{"p":16,"s":"t","m":10300,"v":0.2},
{"p":16,"s":"u","m":10255,"v":12.5},{"p":16,"s":"u","m":10257.5,"v":11.4},{"p":16,"s":"u","m":10262.5,"v":5.5},{"p":16,"s":"u","m":10267.5,"v":1.8},{"p":16,"s":"u","m":10272.5,"v":0.6},{"p":16,"s":"u","m":10277.5,"v":0.25},
{"p":16,"s":"w","m":10247.5,"v":0.3},{"p":16,"s":"w","m":10252.5,"v":0.6},{"p":16,"s":"w","m":10257.5,"v":1.6},{"p":16,"s":"w","m":10262.5,"v":3.5},{"p":16,"s":"w","m":10267.5,"v":4.95},{"p":16,"s":"w","m":10272.5,"v":4.45},{"p":16,"s":"w","m":10277.5,"v":2},{"p":16,"s":"w","m":10282.5,"v":0.7},
{"p":16,"s":"b","m":10210,"v":0.2},{"p":16,"s":"b","m":10310,"v":0.2},
{"p":17,"s":"t","m":10210,"v":0.35},{"p":17,"s":"t","m":10217.5,"v":0.5},{"p":17,"s":"t","m":10222.5,"v":1},{"p":17,"s":"t","m":10227.5,"v":1.8},{"p":17,"s":"t","m":10232.5,"v":2.3},{"p":17,"s":"t","m":10237.5,"v":2.15},{"p":17,"s":"t","m":10242.5,"v":2.55},{"p":17,"s":"t","m":10247.5,"v":4.55},{"p":17,"s":"t","m":10252.5,"v":7.6},{"p":17,"s":"t","m":10257.5,"v":8.9},{"p":17,"s":"t","m":10262.5,"v":7.35},{"p":17,"s":"t","m":10267.5,"v":6.1},{"p":17,"s":"t","m":10272.5,"v":4.8},{"p":17,"s":"t","m":10277.5,"v":2.3},{"p":17,"s":"t","m":10282.5,"v":1},{"p":17,"s":"t","m":10287.5,"v":0.5},{"p":17,"s":"t","m":10292.5,"v":0.35},{"p":17,"s":"t","m":10300,"v":0.3},
{"p":17,"s":"u","m":10257.5,"v":7.8},{"p":17,"s":"u","m":10262.5,"v":5},{"p":17,"s":"u","m":10267.5,"v":2.3},{"p":17,"s":"u","m":10272.5,"v":0.7},{"p":17,"s":"u","m":10277.5,"v":0.3},
{"p":17,"s":"w","m":10247.5,"v":0.5},{"p":17,"s":"w","m":10252.5,"v":0.8},{"p":17,"s":"w","m":10257.5,"v":1.35},{"p":17,"s":"w","m":10262.5,"v":2.6},{"p":17,"s":"w","m":10267.5,"v":4},{"p":17,"s":"w","m":10272.5,"v":4.3},{"p":17,"s":"w","m":10277.5,"v":2.2},{"p":17,"s":"w","m":10282.5,"v":0.9},
{"p":17,"s":"b","m":10210,"v":0.3},{"p":17,"s":"b","m":10310,"v":0.3}]
},
"columns":2,
"spacing":{"row":0,"column":85},
"bounds":"flush",
"align":"all",
"concat":[
{"width":369,"height":118,"resolve":{"axis":{"x":"independent"}},
"encoding":{"x":{"field":"m","type":"quantitative","title":null,"axis":null,"scale":{"domain":[9830,9950],"nice":false,"zero":false}},
"y":{"field":"v","type":"quantitative","title":null,"scale":{"domain":[0,18],"nice":false},"axis":{"orient":"left","values":[4.5,9,13.5,18],"labelExpr":"datum.value==9||datum.value==18?datum.label:''"}}},
"layer":[
{"data":{"name":"B"},"transform":[{"filter":"datum.c=='a'"}],"mark":{"type":"rect","color":"#d5f3d5","clip":true},"encoding":{"x":{"field":"m","type":"quantitative","title":null,"scale":{"domain":[9830,9950],"nice":false,"zero":false},"axis":{"orient":"top","ticks":true,"tickSize":-14,"values":[9850,9870,9890,9910,9930],"labels":false}},"x2":{"field":"m2"},"y2":{"field":"v2"}}},
{"data":{"name":"F"},"transform":[{"filter":"datum.p==1&&datum.s=='u'"}],"mark":{"type":"line","color":"#111","strokeDash":[2.5,2.5],"strokeWidth":1.5,"interpolate":"monotone"},"encoding":{}},
{"data":{"name":"F"},"transform":[{"filter":"datum.p==1&&datum.s=='w'"}],"mark":{"type":"line","color":"#111","strokeDash":[2.5,2.5],"strokeWidth":1.5,"interpolate":"monotone"},"encoding":{}},
{"data":{"name":"F"},"transform":[{"filter":"datum.p==1&&datum.s=='t'"}],"mark":{"type":"line","color":"#ff2222","strokeWidth":2.2,"interpolate":"monotone"},"encoding":{"x":{"field":"m","type":"quantitative","title":null,"scale":{"domain":[9830,9950],"nice":false,"zero":false},"axis":{"orient":"bottom"}}}},
{"data":{"name":"P"},"transform":[{"filter":"datum.p==1&&datum.e>0"}],"mark":{"type":"errorbar","color":"black","thickness":2},"encoding":{"yError":{"field":"e"}}},
{"data":{"name":"P"},"transform":[{"filter":"datum.p==1"}],"mark":{"type":"circle","color":"black","size":40,"opacity":1},"encoding":{}},
{"data":{"name":"T"},"transform":[{"filter":"datum.p==1&&datum.k=='n'"}],"mark":{"type":"text","align":"right","baseline":"middle","fontSize":35,"color":"#222"},"encoding":{"text":{"field":"t"}}},
{"data":{"name":"T"},"transform":[{"filter":"datum.p==1&&datum.k=='a'"}],"mark":{"type":"text","align":"center","baseline":"middle","fontSize":30,"fontWeight":"bold","color":"#222"},"encoding":{"text":{"field":"t"}}}]},
{"width":372,"height":118,"resolve":{"axis":{"x":"independent"}},
"encoding":{"x":{"field":"m","type":"quantitative","title":null,"axis":null,"scale":{"domain":[10210,10310],"nice":false,"zero":false}},
"y":{"field":"v","type":"quantitative","title":null,"scale":{"domain":[0,18],"nice":false},"axis":{"orient":"right","values":[4.5,9,13.5,18],"labelExpr":"datum.value==9||datum.value==18?datum.label:''"}}},
"layer":[
{"data":{"name":"B"},"transform":[{"filter":"datum.c=='b'"}],"mark":{"type":"rect","color":"#d5f3d5","clip":true},"encoding":{"x":{"field":"m","type":"quantitative","title":null,"scale":{"domain":[10210,10310],"nice":false,"zero":false},"axis":{"orient":"top","ticks":true,"tickSize":-8,"values":[10220,10230,10240,10250,10260,10270,10280,10290,10300],"labels":false}},"x2":{"field":"m2"},"y2":{"field":"v2"}}},
{"data":{"name":"F"},"transform":[{"filter":"datum.p==11&&datum.s=='u'"}],"mark":{"type":"line","color":"#111","strokeDash":[2.5,2.5],"strokeWidth":1.5,"interpolate":"monotone"},"encoding":{}},
{"data":{"name":"F"},"transform":[{"filter":"datum.p==11&&datum.s=='w'"}],"mark":{"type":"line","color":"#111","strokeDash":[2.5,2.5],"strokeWidth":1.5,"interpolate":"monotone"},"encoding":{}},
{"data":{"name":"F"},"transform":[{"filter":"datum.p==11&&datum.s=='t'"}],"mark":{"type":"line","color":"#ff2222","strokeWidth":2.2,"interpolate":"monotone"},"encoding":{"x":{"field":"m","type":"quantitative","title":null,"scale":{"domain":[10210,10310],"nice":false,"zero":false},"axis":{"orient":"bottom"}}}},
{"data":{"name":"P"},"transform":[{"filter":"datum.p==11&&datum.e>0"}],"mark":{"type":"errorbar","color":"black","thickness":2},"encoding":{"yError":{"field":"e"}}},
{"data":{"name":"P"},"transform":[{"filter":"datum.p==11"}],"mark":{"type":"circle","color":"black","size":40,"opacity":1},"encoding":{}},
{"data":{"name":"T"},"transform":[{"filter":"datum.p==11&&datum.k=='a'"}],"mark":{"type":"text","align":"center","baseline":"middle","fontSize":30,"fontWeight":"bold","color":"#222"},"encoding":{"text":{"field":"t"}}}]},
{"width":369,"height":118,
"encoding":{"x":{"field":"m","type":"quantitative","title":null,"scale":{"domain":[9830,9950],"nice":false,"zero":false}},
"y":{"field":"v","type":"quantitative","title":null,"scale":{"domain":[0,8],"nice":false},"axis":{"orient":"left","values":[2,4,6],"labelExpr":"datum.value==4?datum.label:''"}}},
"layer":[
{"data":{"name":"B"},"transform":[{"filter":"datum.c=='a'"}],"mark":{"type":"rect","color":"#d5f3d5","clip":true},"encoding":{"x2":{"field":"m2"},"y2":{"field":"v2"}}},
{"data":{"name":"F"},"transform":[{"filter":"datum.p==2&&datum.s=='b'"}],"mark":{"type":"line","color":"#3030ff","strokeDash":[7,4],"strokeWidth":1.6},"encoding":{}},
{"data":{"name":"F"},"transform":[{"filter":"datum.p==2&&datum.s=='u'"}],"mark":{"type":"line","color":"#111","strokeDash":[2.5,2.5],"strokeWidth":1.5,"interpolate":"monotone"},"encoding":{}},
{"data":{"name":"F"},"transform":[{"filter":"datum.p==2&&datum.s=='w'"}],"mark":{"type":"line","color":"#111","strokeDash":[2.5,2.5],"strokeWidth":1.5,"interpolate":"monotone"},"encoding":{}},
{"data":{"name":"F"},"transform":[{"filter":"datum.p==2&&datum.s=='t'"}],"mark":{"type":"line","color":"#ff2222","strokeWidth":2.2,"interpolate":"monotone"},"encoding":{}},
{"data":{"name":"P"},"transform":[{"filter":"datum.p==2&&datum.e>0"}],"mark":{"type":"errorbar","color":"black","thickness":2},"encoding":{"yError":{"field":"e"}}},
{"data":{"name":"P"},"transform":[{"filter":"datum.p==2"}],"mark":{"type":"circle","color":"black","size":40,"opacity":1},"encoding":{}},
{"data":{"name":"T"},"transform":[{"filter":"datum.p==2&&datum.k=='n'"}],"mark":{"type":"text","align":"right","baseline":"middle","fontSize":32,"color":"#222"},"encoding":{"text":{"field":"t"}}}]},
{"width":372,"height":118,
"encoding":{"x":{"field":"m","type":"quantitative","title":null,"scale":{"domain":[10210,10310],"nice":false,"zero":false}},
"y":{"field":"v","type":"quantitative","title":null,"scale":{"domain":[0,8],"nice":false},"axis":{"orient":"right","values":[2,4,6],"labelExpr":"datum.value==4?datum.label:''"}}},
"layer":[
{"data":{"name":"B"},"transform":[{"filter":"datum.c=='b'"}],"mark":{"type":"rect","color":"#d5f3d5","clip":true},"encoding":{"x2":{"field":"m2"},"y2":{"field":"v2"}}},
{"data":{"name":"F"},"transform":[{"filter":"datum.p==12&&datum.s=='b'"}],"mark":{"type":"line","color":"#3030ff","strokeDash":[7,4],"strokeWidth":1.6},"encoding":{}},
{"data":{"name":"F"},"transform":[{"filter":"datum.p==12&&datum.s=='u'"}],"mark":{"type":"line","color":"#111","strokeDash":[2.5,2.5],"strokeWidth":1.5,"interpolate":"monotone"},"encoding":{}},
{"data":{"name":"F"},"transform":[{"filter":"datum.p==12&&datum.s=='w'"}],"mark":{"type":"line","color":"#111","strokeDash":[2.5,2.5],"strokeWidth":1.5,"interpolate":"monotone"},"encoding":{}},
{"data":{"name":"F"},"transform":[{"filter":"datum.p==12&&datum.s=='t'"}],"mark":{"type":"line","color":"#ff2222","strokeWidth":2.2,"interpolate":"monotone"},"encoding":{}},
{"data":{"name":"P"},"transform":[{"filter":"datum.p==12&&datum.e>0"}],"mark":{"type":"errorbar","color":"black","thickness":2},"encoding":{"yError":{"field":"e"}}},
{"data":{"name":"P"},"transform":[{"filter":"datum.p==12"}],"mark":{"type":"circle","color":"black","size":40,"opacity":1},"encoding":{}}]},
{"width":369,"height":118,
"encoding":{"x":{"field":"m","type":"quantitative","title":null,"scale":{"domain":[9830,9950],"nice":false,"zero":false}},
"y":{"field":"v","type":"quantitative","title":null,"scale":{"domain":[0,10],"nice":false},"axis":{"orient":"left","values":[2.5,5,7.5],"labelExpr":"datum.value==5?datum.label:''"}}},
"layer":[
{"data":{"name":"B"},"transform":[{"filter":"datum.c=='a'"}],"mark":{"type":"rect","color":"#d5f3d5","clip":true},"encoding":{"x2":{"field":"m2"},"y2":{"field":"v2"}}},
{"data":{"name":"F"},"transform":[{"filter":"datum.p==3&&datum.s=='b'"}],"mark":{"type":"line","color":"#3030ff","strokeDash":[7,4],"strokeWidth":1.6},"encoding":{}},
{"data":{"name":"F"},"transform":[{"filter":"datum.p==3&&datum.s=='u'"}],"mark":{"type":"line","color":"#111","strokeDash":[2.5,2.5],"strokeWidth":1.5,"interpolate":"monotone"},"encoding":{}},
{"data":{"name":"F"},"transform":[{"filter":"datum.p==3&&datum.s=='w'"}],"mark":{"type":"line","color":"#111","strokeDash":[2.5,2.5],"strokeWidth":1.5,"interpolate":"monotone"},"encoding":{}},
{"data":{"name":"F"},"transform":[{"filter":"datum.p==3&&datum.s=='t'"}],"mark":{"type":"line","color":"#ff2222","strokeWidth":2.2,"interpolate":"monotone"},"encoding":{}},
{"data":{"name":"P"},"transform":[{"filter":"datum.p==3&&datum.e>0"}],"mark":{"type":"errorbar","color":"black","thickness":2},"encoding":{"yError":{"field":"e"}}},
{"data":{"name":"P"},"transform":[{"filter":"datum.p==3"}],"mark":{"type":"circle","color":"black","size":40,"opacity":1},"encoding":{}},
{"data":{"name":"T"},"transform":[{"filter":"datum.p==3&&datum.k=='n'"}],"mark":{"type":"text","align":"right","baseline":"middle","fontSize":33,"color":"#222"},"encoding":{"text":{"field":"t"}}},
{"data":{"name":"S"},"transform":[{"filter":"datum.p==3"}],"mark":{"type":"point","shape":"M0,-1L0,1M-0.87,-0.5L0.87,0.5M-0.87,0.5L0.87,-0.5","size":480,"stroke":"#ff3300","strokeWidth":5,"filled":false,"opacity":1},"encoding":{}}]},
{"width":372,"height":118,
"encoding":{"x":{"field":"m","type":"quantitative","title":null,"scale":{"domain":[10210,10310],"nice":false,"zero":false}},
"y":{"field":"v","type":"quantitative","title":null,"scale":{"domain":[0,10],"nice":false},"axis":{"orient":"right","values":[2.5,5,7.5],"labelExpr":"datum.value==5?datum.label:''"}}},
"layer":[
{"data":{"name":"B"},"transform":[{"filter":"datum.c=='b'"}],"mark":{"type":"rect","color":"#d5f3d5","clip":true},"encoding":{"x2":{"field":"m2"},"y2":{"field":"v2"}}},
{"data":{"name":"F"},"transform":[{"filter":"datum.p==13&&datum.s=='b'"}],"mark":{"type":"line","color":"#3030ff","strokeDash":[7,4],"strokeWidth":1.6},"encoding":{}},
{"data":{"name":"F"},"transform":[{"filter":"datum.p==13&&datum.s=='u'"}],"mark":{"type":"line","color":"#111","strokeDash":[2.5,2.5],"strokeWidth":1.5,"interpolate":"monotone"},"encoding":{}},
{"data":{"name":"F"},"transform":[{"filter":"datum.p==13&&datum.s=='w'"}],"mark":{"type":"line","color":"#111","strokeDash":[2.5,2.5],"strokeWidth":1.5,"interpolate":"monotone"},"encoding":{}},
{"data":{"name":"F"},"transform":[{"filter":"datum.p==13&&datum.s=='t'"}],"mark":{"type":"line","color":"#ff2222","strokeWidth":2.2,"interpolate":"monotone"},"encoding":{}},
{"data":{"name":"P"},"transform":[{"filter":"datum.p==13&&datum.e>0"}],"mark":{"type":"errorbar","color":"black","thickness":2},"encoding":{"yError":{"field":"e"}}},
{"data":{"name":"P"},"transform":[{"filter":"datum.p==13"}],"mark":{"type":"circle","color":"black","size":40,"opacity":1},"encoding":{}},
{"data":{"name":"S"},"transform":[{"filter":"datum.p==13"}],"mark":{"type":"point","shape":"M0,-1L0,1M-0.87,-0.5L0.87,0.5M-0.87,0.5L0.87,-0.5","size":480,"stroke":"#ff3300","strokeWidth":5,"filled":false,"opacity":1},"encoding":{}}]},
{"width":369,"height":118,
"encoding":{"x":{"field":"m","type":"quantitative","title":null,"scale":{"domain":[9830,9950],"nice":false,"zero":false}},
"y":{"field":"v","type":"quantitative","title":null,"scale":{"domain":[0,22],"nice":false},"axis":{"orient":"left","values":[5.5,11,16.5],"labelExpr":"datum.value==11?datum.label:''","title":"Events/5 MeV/c²","titleFontSize":40,"titleX":-44,"titleY":50,"titleAngle":-90,"titleBaseline":"bottom","titleAlign":"center"}}},
"layer":[
{"data":{"name":"B"},"transform":[{"filter":"datum.c=='a'"}],"mark":{"type":"rect","color":"#d5f3d5","clip":true},"encoding":{"x2":{"field":"m2"},"y2":{"field":"v2"}}},
{"data":{"name":"F"},"transform":[{"filter":"datum.p==4&&datum.s=='b'"}],"mark":{"type":"line","color":"#3030ff","strokeDash":[7,4],"strokeWidth":1.6},"encoding":{}},
{"data":{"name":"F"},"transform":[{"filter":"datum.p==4&&datum.s=='u'"}],"mark":{"type":"line","color":"#111","strokeDash":[2.5,2.5],"strokeWidth":1.5,"interpolate":"monotone"},"encoding":{}},
{"data":{"name":"F"},"transform":[{"filter":"datum.p==4&&datum.s=='w'"}],"mark":{"type":"line","color":"#111","strokeDash":[2.5,2.5],"strokeWidth":1.5,"interpolate":"monotone"},"encoding":{}},
{"data":{"name":"F"},"transform":[{"filter":"datum.p==4&&datum.s=='t'"}],"mark":{"type":"line","color":"#ff2222","strokeWidth":2.2,"interpolate":"monotone"},"encoding":{}},
{"data":{"name":"P"},"transform":[{"filter":"datum.p==4&&datum.e>0"}],"mark":{"type":"errorbar","color":"black","thickness":2},"encoding":{"yError":{"field":"e"}}},
{"data":{"name":"P"},"transform":[{"filter":"datum.p==4"}],"mark":{"type":"circle","color":"black","size":40,"opacity":1},"encoding":{}},
{"data":{"name":"T"},"transform":[{"filter":"datum.p==4&&datum.k=='n'"}],"mark":{"type":"text","align":"right","baseline":"middle","fontSize":32,"color":"#222"},"encoding":{"text":{"field":"t"}}},
{"data":{"name":"S"},"transform":[{"filter":"datum.p==4"}],"mark":{"type":"point","shape":"M0,-1L0,1M-0.87,-0.5L0.87,0.5M-0.87,0.5L0.87,-0.5","size":480,"stroke":"#ff3300","strokeWidth":5,"filled":false,"opacity":1},"encoding":{}}]},
{"width":372,"height":118,
"encoding":{"x":{"field":"m","type":"quantitative","title":null,"scale":{"domain":[10210,10310],"nice":false,"zero":false}},
"y":{"field":"v","type":"quantitative","title":null,"scale":{"domain":[0,22],"nice":false},"axis":{"orient":"right","values":[5.5,11,16.5],"labelExpr":"datum.value==11?datum.label:''"}}},
"layer":[
{"data":{"name":"B"},"transform":[{"filter":"datum.c=='b'"}],"mark":{"type":"rect","color":"#d5f3d5","clip":true},"encoding":{"x2":{"field":"m2"},"y2":{"field":"v2"}}},
{"data":{"name":"F"},"transform":[{"filter":"datum.p==14&&datum.s=='b'"}],"mark":{"type":"line","color":"#3030ff","strokeDash":[7,4],"strokeWidth":1.6},"encoding":{}},
{"data":{"name":"F"},"transform":[{"filter":"datum.p==14&&datum.s=='u'"}],"mark":{"type":"line","color":"#111","strokeDash":[2.5,2.5],"strokeWidth":1.5,"interpolate":"monotone"},"encoding":{}},
{"data":{"name":"F"},"transform":[{"filter":"datum.p==14&&datum.s=='w'"}],"mark":{"type":"line","color":"#111","strokeDash":[2.5,2.5],"strokeWidth":1.5,"interpolate":"monotone"},"encoding":{}},
{"data":{"name":"F"},"transform":[{"filter":"datum.p==14&&datum.s=='t'"}],"mark":{"type":"line","color":"#ff2222","strokeWidth":2.2,"interpolate":"monotone"},"encoding":{}},
{"data":{"name":"P"},"transform":[{"filter":"datum.p==14&&datum.e>0"}],"mark":{"type":"errorbar","color":"black","thickness":2},"encoding":{"yError":{"field":"e"}}},
{"data":{"name":"P"},"transform":[{"filter":"datum.p==14"}],"mark":{"type":"circle","color":"black","size":40,"opacity":1},"encoding":{}},
{"data":{"name":"S"},"transform":[{"filter":"datum.p==14"}],"mark":{"type":"point","shape":"M0,-1L0,1M-0.87,-0.5L0.87,0.5M-0.87,0.5L0.87,-0.5","size":480,"stroke":"#ff3300","strokeWidth":5,"filled":false,"opacity":1},"encoding":{}}]},
{"width":369,"height":118,
"encoding":{"x":{"field":"m","type":"quantitative","title":null,"scale":{"domain":[9830,9950],"nice":false,"zero":false}},
"y":{"field":"v","type":"quantitative","title":null,"scale":{"domain":[0,12],"nice":false},"axis":{"orient":"left","values":[3,6,9],"labelExpr":"datum.value==6?datum.label:''"}}},
"layer":[
{"data":{"name":"B"},"transform":[{"filter":"datum.c=='a'"}],"mark":{"type":"rect","color":"#d5f3d5","clip":true},"encoding":{"x2":{"field":"m2"},"y2":{"field":"v2"}}},
{"data":{"name":"F"},"transform":[{"filter":"datum.p==5&&datum.s=='b'"}],"mark":{"type":"line","color":"#3030ff","strokeDash":[7,4],"strokeWidth":1.6},"encoding":{}},
{"data":{"name":"F"},"transform":[{"filter":"datum.p==5&&datum.s=='u'"}],"mark":{"type":"line","color":"#111","strokeDash":[2.5,2.5],"strokeWidth":1.5,"interpolate":"monotone"},"encoding":{}},
{"data":{"name":"F"},"transform":[{"filter":"datum.p==5&&datum.s=='w'"}],"mark":{"type":"line","color":"#111","strokeDash":[2.5,2.5],"strokeWidth":1.5,"interpolate":"monotone"},"encoding":{}},
{"data":{"name":"F"},"transform":[{"filter":"datum.p==5&&datum.s=='t'"}],"mark":{"type":"line","color":"#ff2222","strokeWidth":2.2,"interpolate":"monotone"},"encoding":{}},
{"data":{"name":"P"},"transform":[{"filter":"datum.p==5&&datum.e>0"}],"mark":{"type":"errorbar","color":"black","thickness":2},"encoding":{"yError":{"field":"e"}}},
{"data":{"name":"P"},"transform":[{"filter":"datum.p==5"}],"mark":{"type":"circle","color":"black","size":40,"opacity":1},"encoding":{}},
{"data":{"name":"T"},"transform":[{"filter":"datum.p==5&&datum.k=='n'"}],"mark":{"type":"text","align":"right","baseline":"middle","fontSize":32,"color":"#222"},"encoding":{"text":{"field":"t"}}}]},
{"width":372,"height":118,
"encoding":{"x":{"field":"m","type":"quantitative","title":null,"scale":{"domain":[10210,10310],"nice":false,"zero":false}},
"y":{"field":"v","type":"quantitative","title":null,"scale":{"domain":[0,12],"nice":false},"axis":{"orient":"right","values":[3,6,9],"labelExpr":"datum.value==6?datum.label:''"}}},
"layer":[
{"data":{"name":"B"},"transform":[{"filter":"datum.c=='b'"}],"mark":{"type":"rect","color":"#d5f3d5","clip":true},"encoding":{"x2":{"field":"m2"},"y2":{"field":"v2"}}},
{"data":{"name":"F"},"transform":[{"filter":"datum.p==15&&datum.s=='b'"}],"mark":{"type":"line","color":"#3030ff","strokeDash":[7,4],"strokeWidth":1.6},"encoding":{}},
{"data":{"name":"F"},"transform":[{"filter":"datum.p==15&&datum.s=='u'"}],"mark":{"type":"line","color":"#111","strokeDash":[2.5,2.5],"strokeWidth":1.5,"interpolate":"monotone"},"encoding":{}},
{"data":{"name":"F"},"transform":[{"filter":"datum.p==15&&datum.s=='w'"}],"mark":{"type":"line","color":"#111","strokeDash":[2.5,2.5],"strokeWidth":1.5,"interpolate":"monotone"},"encoding":{}},
{"data":{"name":"F"},"transform":[{"filter":"datum.p==15&&datum.s=='t'"}],"mark":{"type":"line","color":"#ff2222","strokeWidth":2.2,"interpolate":"monotone"},"encoding":{}},
{"data":{"name":"P"},"transform":[{"filter":"datum.p==15&&datum.e>0"}],"mark":{"type":"errorbar","color":"black","thickness":2},"encoding":{"yError":{"field":"e"}}},
{"data":{"name":"P"},"transform":[{"filter":"datum.p==15"}],"mark":{"type":"circle","color":"black","size":40,"opacity":1},"encoding":{}}]},
{"width":369,"height":118,
"encoding":{"x":{"field":"m","type":"quantitative","title":null,"scale":{"domain":[9830,9950],"nice":false,"zero":false}},
"y":{"field":"v","type":"quantitative","title":null,"scale":{"domain":[0,20],"nice":false},"axis":{"orient":"left","values":[5,10,15],"labelExpr":"datum.value==10?datum.label:''"}}},
"layer":[
{"data":{"name":"B"},"transform":[{"filter":"datum.c=='a'"}],"mark":{"type":"rect","color":"#d5f3d5","clip":true},"encoding":{"x2":{"field":"m2"},"y2":{"field":"v2"}}},
{"data":{"name":"F"},"transform":[{"filter":"datum.p==6&&datum.s=='b'"}],"mark":{"type":"line","color":"#3030ff","strokeDash":[7,4],"strokeWidth":1.6},"encoding":{}},
{"data":{"name":"F"},"transform":[{"filter":"datum.p==6&&datum.s=='u'"}],"mark":{"type":"line","color":"#111","strokeDash":[2.5,2.5],"strokeWidth":1.5,"interpolate":"monotone"},"encoding":{}},
{"data":{"name":"F"},"transform":[{"filter":"datum.p==6&&datum.s=='w'"}],"mark":{"type":"line","color":"#111","strokeDash":[2.5,2.5],"strokeWidth":1.5,"interpolate":"monotone"},"encoding":{}},
{"data":{"name":"F"},"transform":[{"filter":"datum.p==6&&datum.s=='t'"}],"mark":{"type":"line","color":"#ff2222","strokeWidth":2.2,"interpolate":"monotone"},"encoding":{}},
{"data":{"name":"P"},"transform":[{"filter":"datum.p==6&&datum.e>0"}],"mark":{"type":"errorbar","color":"black","thickness":2},"encoding":{"yError":{"field":"e"}}},
{"data":{"name":"P"},"transform":[{"filter":"datum.p==6"}],"mark":{"type":"circle","color":"black","size":40,"opacity":1},"encoding":{}},
{"data":{"name":"T"},"transform":[{"filter":"datum.p==6&&datum.k=='n'"}],"mark":{"type":"text","align":"right","baseline":"middle","fontSize":32,"color":"#222"},"encoding":{"text":{"field":"t"}}}]},
{"width":372,"height":118,
"encoding":{"x":{"field":"m","type":"quantitative","title":null,"scale":{"domain":[10210,10310],"nice":false,"zero":false}},
"y":{"field":"v","type":"quantitative","title":null,"scale":{"domain":[0,20],"nice":false},"axis":{"orient":"right","values":[5,10,15],"labelExpr":"datum.value==10?datum.label:''"}}},
"layer":[
{"data":{"name":"B"},"transform":[{"filter":"datum.c=='b'"}],"mark":{"type":"rect","color":"#d5f3d5","clip":true},"encoding":{"x2":{"field":"m2"},"y2":{"field":"v2"}}},
{"data":{"name":"F"},"transform":[{"filter":"datum.p==16&&datum.s=='b'"}],"mark":{"type":"line","color":"#3030ff","strokeDash":[7,4],"strokeWidth":1.6},"encoding":{}},
{"data":{"name":"F"},"transform":[{"filter":"datum.p==16&&datum.s=='u'"}],"mark":{"type":"line","color":"#111","strokeDash":[2.5,2.5],"strokeWidth":1.5,"interpolate":"monotone"},"encoding":{}},
{"data":{"name":"F"},"transform":[{"filter":"datum.p==16&&datum.s=='w'"}],"mark":{"type":"line","color":"#111","strokeDash":[2.5,2.5],"strokeWidth":1.5,"interpolate":"monotone"},"encoding":{}},
{"data":{"name":"F"},"transform":[{"filter":"datum.p==16&&datum.s=='t'"}],"mark":{"type":"line","color":"#ff2222","strokeWidth":2.2,"interpolate":"monotone"},"encoding":{}},
{"data":{"name":"P"},"transform":[{"filter":"datum.p==16&&datum.e>0"}],"mark":{"type":"errorbar","color":"black","thickness":2},"encoding":{"yError":{"field":"e"}}},
{"data":{"name":"P"},"transform":[{"filter":"datum.p==16"}],"mark":{"type":"circle","color":"black","size":40,"opacity":1},"encoding":{}},
{"data":{"name":"S"},"transform":[{"filter":"datum.p==16"}],"mark":{"type":"point","shape":"M0,-1L0,1M-0.87,-0.5L0.87,0.5M-0.87,0.5L0.87,-0.5","size":480,"stroke":"#ff3300","strokeWidth":5,"filled":false,"opacity":1},"encoding":{}}]},
{"width":369,"height":118,
"encoding":{"x":{"field":"m","type":"quantitative","title":null,"scale":{"domain":[9830,9950],"nice":false,"zero":false},"axis":{"labels":true,"values":[9830,9870,9910,9950],"labelPadding":17,"title":"Invariant Mass (MeV/c²)","titleFontSize":34,"titleX":411,"titleY":72,"titleBaseline":"alphabetic","titleAlign":"center"}},
"y":{"field":"v","type":"quantitative","title":null,"scale":{"domain":[0,18],"nice":false},"axis":{"orient":"left","values":[4.5,9,13.5],"labelExpr":"datum.value==9?datum.label:''"}}},
"layer":[
{"data":{"name":"B"},"transform":[{"filter":"datum.c=='a'"}],"mark":{"type":"rect","color":"#d5f3d5","clip":true},"encoding":{"x2":{"field":"m2"},"y2":{"field":"v2"}}},
{"data":{"name":"F"},"transform":[{"filter":"datum.p==7&&datum.s=='b'"}],"mark":{"type":"line","color":"#3030ff","strokeDash":[7,4],"strokeWidth":1.6},"encoding":{}},
{"data":{"name":"F"},"transform":[{"filter":"datum.p==7&&datum.s=='u'"}],"mark":{"type":"line","color":"#111","strokeDash":[2.5,2.5],"strokeWidth":1.5,"interpolate":"monotone"},"encoding":{}},
{"data":{"name":"F"},"transform":[{"filter":"datum.p==7&&datum.s=='w'"}],"mark":{"type":"line","color":"#111","strokeDash":[2.5,2.5],"strokeWidth":1.5,"interpolate":"monotone"},"encoding":{}},
{"data":{"name":"F"},"transform":[{"filter":"datum.p==7&&datum.s=='t'"}],"mark":{"type":"line","color":"#ff2222","strokeWidth":2.2,"interpolate":"monotone"},"encoding":{}},
{"data":{"name":"P"},"transform":[{"filter":"datum.p==7&&datum.e>0"}],"mark":{"type":"errorbar","color":"black","thickness":2},"encoding":{"yError":{"field":"e"}}},
{"data":{"name":"P"},"transform":[{"filter":"datum.p==7"}],"mark":{"type":"circle","color":"black","size":40,"opacity":1},"encoding":{}},
{"data":{"name":"T"},"transform":[{"filter":"datum.p==7&&datum.k=='n'"}],"mark":{"type":"text","align":"right","baseline":"middle","fontSize":32,"color":"#222"},"encoding":{"text":{"field":"t"}}},
{"data":{"name":"S"},"transform":[{"filter":"datum.p==7"}],"mark":{"type":"point","shape":"M0,-1L0,1M-0.87,-0.5L0.87,0.5M-0.87,0.5L0.87,-0.5","size":480,"stroke":"#ff3300","strokeWidth":5,"filled":false,"opacity":1},"encoding":{}}]},
{"width":372,"height":118,
"encoding":{"x":{"field":"m","type":"quantitative","title":null,"scale":{"domain":[10210,10310],"nice":false,"zero":false},"axis":{"labels":true,"values":[10210,10260,10310],"labelPadding":17}},
"y":{"field":"v","type":"quantitative","title":null,"scale":{"domain":[0,18],"nice":false},"axis":{"orient":"right","values":[4.5,9,13.5],"labelExpr":"datum.value==9?datum.label:''"}}},
"layer":[
{"data":{"name":"B"},"transform":[{"filter":"datum.c=='b'"}],"mark":{"type":"rect","color":"#d5f3d5","clip":true},"encoding":{"x2":{"field":"m2"},"y2":{"field":"v2"}}},
{"data":{"name":"F"},"transform":[{"filter":"datum.p==17&&datum.s=='b'"}],"mark":{"type":"line","color":"#3030ff","strokeDash":[7,4],"strokeWidth":1.6},"encoding":{}},
{"data":{"name":"F"},"transform":[{"filter":"datum.p==17&&datum.s=='u'"}],"mark":{"type":"line","color":"#111","strokeDash":[2.5,2.5],"strokeWidth":1.5,"interpolate":"monotone"},"encoding":{}},
{"data":{"name":"F"},"transform":[{"filter":"datum.p==17&&datum.s=='w'"}],"mark":{"type":"line","color":"#111","strokeDash":[2.5,2.5],"strokeWidth":1.5,"interpolate":"monotone"},"encoding":{}},
{"data":{"name":"F"},"transform":[{"filter":"datum.p==17&&datum.s=='t'"}],"mark":{"type":"line","color":"#ff2222","strokeWidth":2.2,"interpolate":"monotone"},"encoding":{}},
{"data":{"name":"P"},"transform":[{"filter":"datum.p==17&&datum.e>0"}],"mark":{"type":"errorbar","color":"black","thickness":2},"encoding":{"yError":{"field":"e"}}},
{"data":{"name":"P"},"transform":[{"filter":"datum.p==17"}],"mark":{"type":"circle","color":"black","size":40,"opacity":1},"encoding":{}},
{"data":{"name":"S"},"transform":[{"filter":"datum.p==17"}],"mark":{"type":"point","shape":"M0,-1L0,1M-0.87,-0.5L0.87,0.5M-0.87,0.5L0.87,-0.5","size":480,"stroke":"#ff3300","strokeWidth":5,"filled":false,"opacity":1},"encoding":{}}]}
]
}
